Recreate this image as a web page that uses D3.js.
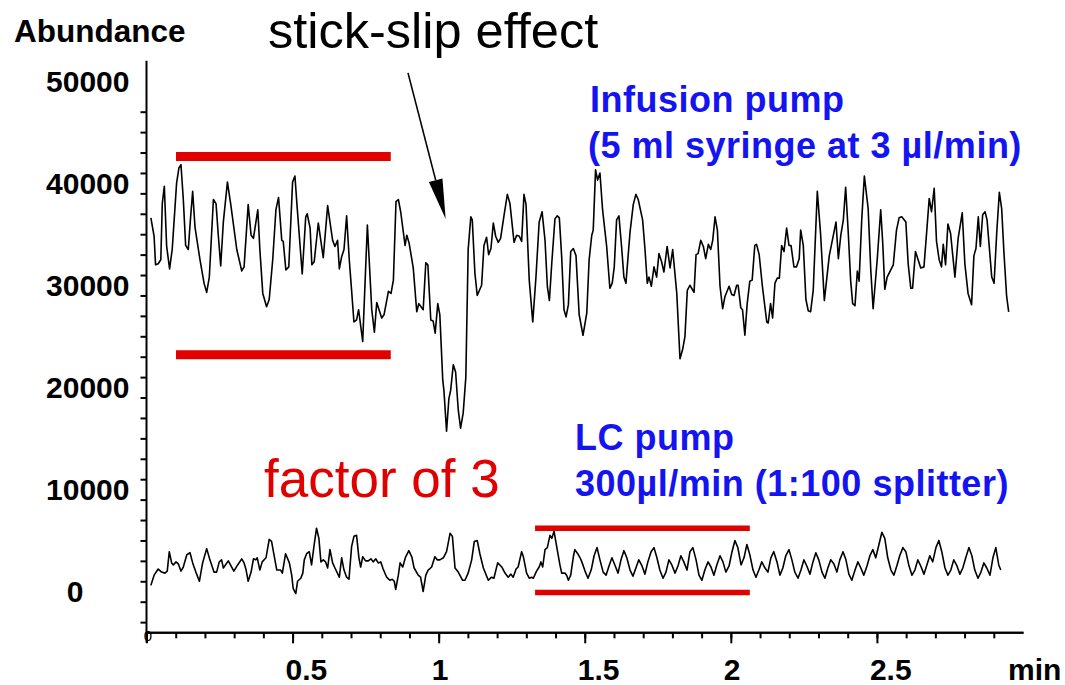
<!DOCTYPE html>
<html><head><meta charset="utf-8">
<script src="https://cdn.jsdelivr.net/npm/d3@7"></script>
<style>
body{margin:0;background:#fff}
svg{display:block;background:#fff}
text{font-family:Arial,"Liberation Sans",sans-serif}
</style></head>
<body><svg id="chart" width="1065" height="685"></svg>
<script>
// ---------- data ----------
const infusionSeries = [[0.015,37600],[0.026,35800],[0.031,33000],[0.040,33100],[0.049,33500],[0.054,39000],[0.061,40700],[0.069,34800],[0.079,32600],[0.088,34500],[0.103,41000],[0.111,42500],[0.118,42800],[0.126,39400],[0.134,34900],[0.143,34500],[0.151,37700],[0.158,40200],[0.166,36700],[0.183,33500],[0.197,31200],[0.206,30300],[0.215,31800],[0.229,39400],[0.238,39000],[0.246,35800],[0.254,32900],[0.263,37200],[0.277,41100],[0.288,39000],[0.309,34500],[0.326,32400],[0.334,32800],[0.348,38900],[0.358,35900],[0.366,35600],[0.381,38400],[0.388,34500],[0.398,30200],[0.411,28900],[0.420,29600],[0.432,33500],[0.443,38400],[0.452,39600],[0.463,35400],[0.468,35300],[0.477,32500],[0.487,32800],[0.500,41100],[0.508,41700],[0.516,38500],[0.533,32100],[0.545,37700],[0.550,38000],[0.560,36600],[0.566,33000],[0.574,33300],[0.588,37100],[0.605,33700],[0.620,38800],[0.637,35400],[0.645,34800],[0.654,35400],[0.660,32600],[0.668,33800],[0.676,34500],[0.685,37800],[0.694,33500],[0.702,30500],[0.710,27400],[0.719,27600],[0.726,28600],[0.740,25500],[0.756,36900],[0.771,28600],[0.780,26400],[0.788,29300],[0.805,27800],[0.813,28100],[0.828,30400],[0.837,30200],[0.845,31500],[0.854,39200],[0.862,39400],[0.870,38200],[0.885,34900],[0.891,35900],[0.899,35100],[0.913,32700],[0.925,28400],[0.932,29200],[0.947,28600],[0.956,33200],[0.963,33000],[0.973,27600],[0.981,27500],[0.988,26300],[0.997,29200],[1.004,28100],[1.014,21700],[1.018,20700],[1.027,16700],[1.035,19900],[1.041,20700],[1.050,23200],[1.058,22500],[1.067,18800],[1.075,17000],[1.084,18500],[1.093,22000],[1.101,34500],[1.110,37700],[1.115,37400],[1.124,32200],[1.132,30000],[1.147,31000],[1.155,34900],[1.164,35700],[1.171,34000],[1.179,34600],[1.187,37100],[1.195,35800],[1.204,35200],[1.212,35600],[1.224,37900],[1.235,39900],[1.244,39000],[1.258,35200],[1.267,35900],[1.276,35800],[1.284,35300],[1.292,39900],[1.299,38900],[1.310,31500],[1.322,27400],[1.333,31800],[1.344,37200],[1.354,38200],[1.364,35400],[1.372,30900],[1.379,29500],[1.387,33100],[1.398,37500],[1.406,37800],[1.413,37600],[1.421,33800],[1.429,28600],[1.436,27900],[1.444,29100],[1.452,34300],[1.461,34600],[1.470,33900],[1.481,28100],[1.494,26100],[1.507,28300],[1.515,33500],[1.524,35900],[1.529,36400],[1.537,42300],[1.544,41300],[1.552,42000],[1.561,38400],[1.575,34800],[1.586,30700],[1.594,31200],[1.601,32800],[1.609,37400],[1.617,37800],[1.626,34800],[1.634,31800],[1.641,31200],[1.655,36200],[1.666,38900],[1.675,39900],[1.683,39400],[1.698,37400],[1.706,34600],[1.714,31200],[1.720,31800],[1.728,30900],[1.737,32800],[1.746,31800],[1.754,34100],[1.763,33300],[1.771,32300],[1.782,34800],[1.792,32700],[1.801,34500],[1.815,30200],[1.826,23800],[1.835,24700],[1.843,26000],[1.851,30500],[1.860,31000],[1.874,30300],[1.881,34000],[1.888,34100],[1.897,35400],[1.906,34800],[1.914,33600],[1.923,35000],[1.931,34500],[1.938,35400],[1.946,37700],[1.954,36400],[1.963,30900],[1.972,28700],[1.980,29900],[1.994,30900],[2.003,30100],[2.011,30000],[2.020,31000],[2.025,31000],[2.034,28800],[2.040,28600],[2.048,26100],[2.056,29200],[2.065,31400],[2.073,31500],[2.082,34900],[2.088,35000],[2.097,34000],[2.108,30900],[2.123,27400],[2.128,27300],[2.136,29200],[2.143,27800],[2.151,31200],[2.159,31700],[2.166,31700],[2.174,34900],[2.182,34300],[2.191,36600],[2.199,34900],[2.206,34900],[2.216,32800],[2.225,32800],[2.234,33600],[2.239,36400],[2.248,34900],[2.257,29600],[2.265,28500],[2.273,28400],[2.282,30500],[2.296,40200],[2.307,36100],[2.320,29500],[2.337,33900],[2.360,37200],[2.368,33600],[2.376,35800],[2.385,37400],[2.393,40600],[2.402,36100],[2.410,31500],[2.417,29200],[2.425,29000],[2.433,32400],[2.439,31400],[2.448,37400],[2.457,41700],[2.470,38500],[2.479,32500],[2.487,28700],[2.501,33500],[2.513,38400],[2.520,35100],[2.527,30600],[2.535,31800],[2.556,33000],[2.567,36400],[2.576,37600],[2.585,37700],[2.599,37200],[2.607,33100],[2.616,30700],[2.622,30700],[2.632,34300],[2.650,32700],[2.661,32800],[2.670,36100],[2.679,39500],[2.687,38200],[2.696,40500],[2.704,35300],[2.713,33500],[2.721,32800],[2.727,35000],[2.735,33000],[2.743,37000],[2.752,36100],[2.767,31800],[2.778,35600],[2.792,38100],[2.801,33100],[2.812,30200],[2.824,29100],[2.832,33900],[2.839,34600],[2.847,37700],[2.854,34800],[2.862,37900],[2.870,38200],[2.877,37400],[2.893,31800],[2.901,31200],[2.910,36100],[2.919,40100],[2.927,38500],[2.935,34100],[2.944,29900],[2.951,28400]];

const lcSeries = [[0.015,1600],[0.026,2600],[0.040,3200],[0.052,2900],[0.063,2800],[0.071,3000],[0.078,4900],[0.086,3800],[0.092,3600],[0.101,3900],[0.109,3700],[0.118,3000],[0.126,3400],[0.138,4600],[0.149,4800],[0.158,3800],[0.169,2900],[0.181,2000],[0.192,3800],[0.206,5200],[0.217,4100],[0.231,2900],[0.240,2900],[0.249,3900],[0.257,4100],[0.263,3300],[0.280,4000],[0.299,3000],[0.312,3600],[0.326,4200],[0.334,3800],[0.341,3100],[0.348,2000],[0.358,2900],[0.366,4200],[0.374,4100],[0.379,4300],[0.388,3100],[0.396,3900],[0.409,4300],[0.420,6100],[0.428,5900],[0.446,3100],[0.459,3100],[0.465,2800],[0.476,4700],[0.489,3800],[0.497,2600],[0.502,1300],[0.511,800],[0.517,2000],[0.528,2300],[0.535,2800],[0.540,4100],[0.548,4700],[0.557,4900],[0.565,3600],[0.573,5400],[0.582,7200],[0.590,6200],[0.597,3900],[0.605,4100],[0.613,3900],[0.620,3300],[0.628,5100],[0.637,3800],[0.645,3300],[0.660,2400],[0.668,4300],[0.676,3100],[0.685,2400],[0.693,2200],[0.702,5400],[0.710,6400],[0.719,6500],[0.727,4300],[0.733,3400],[0.740,4400],[0.750,4000],[0.759,4000],[0.768,4200],[0.776,3900],[0.785,4200],[0.793,3800],[0.802,3900],[0.810,3200],[0.822,2400],[0.833,2100],[0.841,2200],[0.848,2000],[0.853,1200],[0.862,2600],[0.868,3800],[0.877,3400],[0.887,4400],[0.898,5000],[0.908,4400],[0.916,3300],[0.930,2600],[0.938,2400],[0.947,1000],[0.956,2600],[0.964,3100],[0.976,3400],[0.987,4400],[0.995,4100],[1.004,4100],[1.016,4300],[1.027,4900],[1.039,6700],[1.047,6400],[1.056,3300],[1.067,2900],[1.082,2100],[1.090,2100],[1.101,2800],[1.113,4100],[1.122,5900],[1.132,6000],[1.141,4700],[1.153,3300],[1.170,2100],[1.181,2400],[1.189,2300],[1.202,3800],[1.216,3400],[1.227,2800],[1.238,2400],[1.247,2700],[1.255,2400],[1.265,3200],[1.272,3400],[1.284,4900],[1.290,4400],[1.301,2800],[1.310,2300],[1.318,2400],[1.324,2300],[1.335,3000],[1.344,3400],[1.350,3900],[1.356,3400],[1.364,5100],[1.372,5300],[1.381,6500],[1.387,6200],[1.395,6900],[1.404,5400],[1.415,3600],[1.421,2800],[1.432,2800],[1.438,2600],[1.444,2100],[1.452,2600],[1.461,4400],[1.466,5100],[1.476,4700],[1.484,4300],[1.490,3900],[1.501,3000],[1.511,2300],[1.522,3100],[1.532,4500],[1.542,5300],[1.552,4100],[1.563,2900],[1.573,2600],[1.583,3500],[1.593,4300],[1.603,3600],[1.614,2800],[1.624,4100],[1.634,5000],[1.644,4300],[1.655,3100],[1.665,2500],[1.675,3300],[1.685,4100],[1.696,3500],[1.706,2700],[1.716,3900],[1.727,4900],[1.737,5300],[1.747,4300],[1.757,3100],[1.768,2300],[1.778,2900],[1.788,4100],[1.798,3600],[1.809,2800],[1.819,3500],[1.829,4500],[1.839,3900],[1.850,3100],[1.860,4900],[1.870,5300],[1.881,4100],[1.891,2600],[1.901,2100],[1.911,3100],[1.922,3900],[1.932,3400],[1.942,2600],[1.952,3600],[1.963,4500],[1.973,3900],[1.983,2900],[1.994,3500],[2.004,4900],[2.014,6000],[2.024,5300],[2.035,3600],[2.045,4300],[2.055,5600],[2.065,4600],[2.076,3100],[2.086,2400],[2.096,3100],[2.106,3900],[2.117,3300],[2.127,2900],[2.137,4300],[2.147,4900],[2.158,3900],[2.168,2600],[2.178,3300],[2.188,4500],[2.199,5100],[2.209,4100],[2.219,2900],[2.230,2300],[2.240,3100],[2.250,4100],[2.260,3500],[2.271,2700],[2.281,3900],[2.291,4800],[2.301,4100],[2.312,2900],[2.322,2300],[2.332,3300],[2.342,4100],[2.353,3700],[2.363,2900],[2.373,4100],[2.384,4900],[2.394,4100],[2.404,2700],[2.414,2100],[2.425,3100],[2.435,3900],[2.445,3300],[2.455,2600],[2.466,3500],[2.476,4500],[2.486,5100],[2.496,4300],[2.507,5600],[2.517,6800],[2.527,6200],[2.537,4300],[2.548,3100],[2.558,2600],[2.568,3500],[2.578,4500],[2.589,5300],[2.599,4900],[2.609,3600],[2.620,2600],[2.630,3100],[2.640,4100],[2.650,3500],[2.661,2700],[2.671,3600],[2.681,4500],[2.691,3900],[2.702,5300],[2.712,6000],[2.722,4900],[2.733,3300],[2.743,2600],[2.753,3100],[2.763,4100],[2.774,3500],[2.784,2700],[2.794,3300],[2.804,4300],[2.815,5300],[2.825,4500],[2.835,3100],[2.846,2300],[2.856,2900],[2.866,3800],[2.876,3300],[2.887,2600],[2.897,4300],[2.907,5300],[2.917,3600],[2.924,3100]];

const yLabelValues = [0, 10000, 20000, 30000, 40000, 50000];
const yMinorTicks = d3.range(-2000, 48001, 2000);
const xLabelValues = [0.5, 1, 1.5, 2, 2.5];
const xMajorTicks = [0, 0.5, 1, 1.5, 2, 2.5];
const xMinorTicks = d3.range(1, 30).map(i => i / 10);
// range bands marked in red: [tStart, tEnd, abundance]
const infusionBands = [[0.101, 0.836, 43600], [0.101, 0.836, 24200]];
const lcBands = [[1.330, 2.065, 7200], [1.330, 2.065, 900]];
const arrowFrom = [0.895, 51800];
const arrowTo = [1.024, 37500];

// ---------- scales ----------
const svg = d3.select("#chart");
const x = d3.scaleLinear().domain([0, 3]).range([146.5, 1023]);
const y = d3.scaleLinear().domain([0, 48000]).range([601.7, 111.7]);

// axes
const axisStroke = 2;
const gx = svg.append("g").attr("transform", `translate(0,${y(-3000)})`);
gx.call(d3.axisBottom(x).tickValues(xMinorTicks).tickSize(6).tickSizeOuter(0).tickFormat(""));
gx.append("g").call(d3.axisBottom(x).tickValues(xMajorTicks).tickSize(11).tickSizeOuter(0).tickFormat(""));
gx.selectAll("path.domain").attr("stroke", "#000").attr("stroke-width", axisStroke);
gx.selectAll("line").attr("stroke", "#000").attr("stroke-width", axisStroke);

const gy = svg.append("g").attr("transform", `translate(${x(0)},0)`);
gy.call(d3.axisLeft(y).tickValues(yMinorTicks).tickSize(6).tickSizeOuter(0).tickFormat(""));
gy.select("path.domain").remove();
gy.selectAll("line").attr("stroke", "#000").attr("stroke-width", axisStroke);
gy.append("line").attr("x1", 0).attr("x2", 0)
  .attr("y1", y(53000)).attr("y2", y(-4000))
  .attr("stroke", "#000").attr("stroke-width", axisStroke);

// y labels
svg.append("g").selectAll("text").data(yLabelValues).join("text")
  .attr("x", d => d === 0 ? 75 : x(0) - 17)
  .attr("y", d => y(d) - 10)
  .attr("dominant-baseline", "central")
  .attr("text-anchor", d => d === 0 ? "middle" : "end")
  .attr("font-weight", "bold").attr("font-size", 30)
  .text(d => d);

// x labels
svg.append("g").selectAll("text").data(xLabelValues).join("text")
  .attr("x", d => x(d) - 7)
  .attr("y", 680)
  .attr("text-anchor", "start")
  .attr("font-weight", "bold").attr("font-size", 30)
  .text(d => d);
svg.append("text").attr("x", x(0) + 1.5).attr("y", 641).attr("text-anchor", "middle")
  .attr("font-size", 15).text("0");
svg.append("text").attr("x", 1008).attr("y", 680).attr("font-weight", "bold")
  .attr("font-size", 30).text("min");
svg.append("text").attr("x", 14).attr("y", 42).attr("font-weight", "bold")
  .attr("font-size", 31.5).text("Abundance");

// traces
const line = d3.line().x(d => x(d[0])).y(d => y(d[1]));
svg.append("path").datum(infusionSeries).attr("d", line)
  .attr("fill", "none").attr("stroke", "#000").attr("stroke-width", 1.6).attr("stroke-linejoin", "round");
svg.append("path").datum(lcSeries).attr("d", line)
  .attr("fill", "none").attr("stroke", "#000").attr("stroke-width", 1.6).attr("stroke-linejoin", "round");

// red bands
const red = "#e00000";
svg.append("g").selectAll("line").data(infusionBands).join("line")
  .attr("x1", d => x(d[0])).attr("x2", d => x(d[1]))
  .attr("y1", d => y(d[2])).attr("y2", d => y(d[2]))
  .attr("stroke", red).attr("stroke-width", 9);
svg.append("g").selectAll("line").data(lcBands).join("line")
  .attr("x1", d => x(d[0])).attr("x2", d => x(d[1]))
  .attr("y1", d => y(d[2])).attr("y2", d => y(d[2]))
  .attr("stroke", red).attr("stroke-width", 5.5);

// arrow
const ax0 = x(arrowFrom[0]), ay0 = y(arrowFrom[1]);
const ax1 = x(arrowTo[0]), ay1 = y(arrowTo[1]);
const ang = Math.atan2(ay1 - ay0, ax1 - ax0);
const headLen = 40, headHalf = 7;
const bx = ax1 - headLen * Math.cos(ang), by = ay1 - headLen * Math.sin(ang);
svg.append("line").attr("x1", ax0).attr("y1", ay0).attr("x2", bx).attr("y2", by)
  .attr("stroke", "#000").attr("stroke-width", 1.6);
svg.append("path")
  .attr("d", `M${ax1},${ay1}L${bx - headHalf * Math.sin(ang)},${by + headHalf * Math.cos(ang)}L${bx + headHalf * Math.sin(ang)},${by - headHalf * Math.cos(ang)}Z`)
  .attr("fill", "#000");

// annotations
svg.append("text").attr("x", 268).attr("y", 48).attr("font-size", 50.5).text("stick-slip effect");
svg.append("text").attr("x", 264).attr("y", 497).attr("font-size", 53).attr("fill", red).text("factor of 3");
const blue = "#1414f0";
const blueTexts = [
  {t: "Infusion pump", x: 590, y: 112},
  {t: "(5 ml syringe at 3 µl/min)", x: 588, y: 158},
  {t: "LC pump", x: 575, y: 450},
  {t: "300µl/min (1:100 splitter)", x: 575, y: 496}
];
svg.append("g").selectAll("text").data(blueTexts).join("text")
  .attr("x", d => d.x).attr("y", d => d.y)
  .attr("font-weight", "bold").attr("font-size", 36).attr("letter-spacing", 0.5).attr("fill", blue)
  .text(d => d.t);
</script></body></html>
